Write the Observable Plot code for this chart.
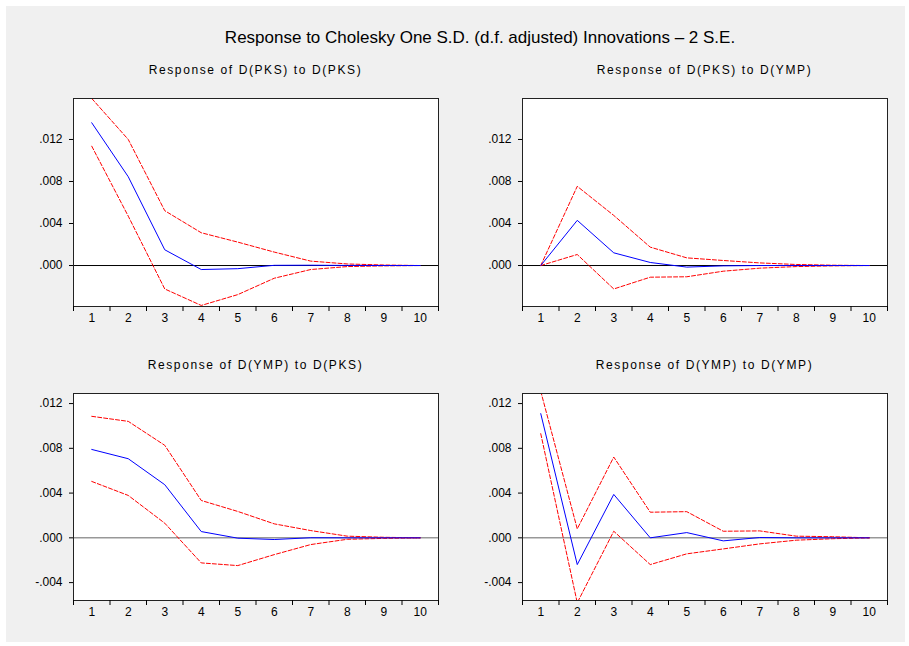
<!DOCTYPE html>
<html>
<head>
<meta charset="utf-8">
<script src="https://cdn.jsdelivr.net/npm/d3@7"></script>
<script src="https://cdn.jsdelivr.net/npm/@observablehq/plot@0.6"></script>
<style>
  html, body { margin: 0; padding: 0; background: #ffffff; }
  #wrap { position: relative; width: 909px; height: 646px; overflow: hidden; font-family: "Liberation Sans", Arial, sans-serif; }
  #bg { position: absolute; left: 6px; top: 6px; width: 899px; height: 636px; background: #f0f0f0; }
  .ttl { position: absolute; white-space: nowrap; transform: translate(-50%, -50%); color: #000; }
  .main { font-size: 17px; }
  .sub { font-size: 12px; letter-spacing: 1.6px; }
  .panel { position: absolute; }
</style>
</head>
<body>
<div id="wrap"><div id="bg"></div></div>
<script>
const periods = [1, 2, 3, 4, 5, 6, 7, 8, 9, 10];
const xTickEdges = [0.5, 1.5, 2.5, 3.5, 4.5, 5.5, 6.5, 7.5, 8.5, 9.5, 10.5];

const mainTitle = "Response to Cholesky One S.D. (d.f. adjusted) Innovations \u2013 2 S.E.";
const panelTitles = [
  "Response of D(PKS) to D(PKS)",
  "Response of D(PKS) to D(YMP)",
  "Response of D(YMP) to D(PKS)",
  "Response of D(YMP) to D(YMP)"
];

// Response of D(PKS) to D(PKS)
const pksPks   = [0.01359, 0.00845, 0.0015, -0.00038, -0.0003, 0.00002, 0.00003, 0.00001, 0, 0];
const pksPksUp = [0.0159, 0.0120, 0.00522, 0.00312, 0.00223, 0.00128, 0.00042, 0.00015, 0.00005, 0];
const pksPksLo = [0.01136, 0.0047, -0.00223, -0.0038, -0.00277, -0.00121, -0.00038, -0.0001, -0.00003, 0];

// Response of D(PKS) to D(YMP)
const pksYmp   = [0, 0.0043, 0.00121, 0.00029, -0.00015, -0.00003, 0, 0, 0, 0];
const pksYmpUp = [0, 0.00754, 0.00477, 0.00175, 0.00073, 0.00048, 0.00025, 0.0001, 0.00003, 0];
const pksYmpLo = [0, 0.00105, -0.00223, -0.00111, -0.00107, -0.00054, -0.00025, -0.0001, -0.00003, 0];

// Response of D(YMP) to D(PKS)
const ympPks   = [0.0079, 0.00707, 0.00475, 0.00056, -0.00003, -0.00015, 0.00001, 0, 0, 0];
const ympPksUp = [0.01086, 0.01041, 0.00827, 0.00334, 0.00236, 0.00125, 0.00065, 0.00015, 0.00005, 0];
const ympPksLo = [0.00504, 0.00379, 0.00131, -0.00224, -0.00248, -0.0015, -0.0006, -0.00013, -0.00005, 0];

// Response of D(YMP) to D(YMP)
const ympYmp   = [0.0111, -0.00239, 0.00388, 0, 0.00047, -0.00027, 0.00003, 0, 0, 0];
const ympYmpUp = [0.0131, 0.0008, 0.00722, 0.00229, 0.00234, 0.00059, 0.00062, 0.00015, 0.0001, 0];
const ympYmpLo = [0.00931, -0.0058, 0.00059, -0.00239, -0.00143, -0.00099, -0.00054, -0.00021, -0.00008, 0];

const topDomain = [-0.0039, 0.0159];
const bottomDomain = [-0.0056, 0.0129];
const topTicks = [0, 0.004, 0.008, 0.012];
const bottomTicks = [-0.004, 0, 0.004, 0.008, 0.012];

const fmtY = d => (d < 0 ? "-" : "") + Math.abs(d).toFixed(3).replace(/^0\./, ".");

const panels = [
  {title: panelTitles[0], resp: pksPks, up: pksPksUp, lo: pksPksLo, domain: topDomain, ticks: topTicks, fx: 73, fy: 98, fw: 365, fh: 208, zero: "#000"},
  {title: panelTitles[1], resp: pksYmp, up: pksYmpUp, lo: pksYmpLo, domain: topDomain, ticks: topTicks, fx: 522, fy: 98, fw: 365, fh: 208, zero: "#000"},
  {title: panelTitles[2], resp: ympPks, up: ympPksUp, lo: ympPksLo, domain: bottomDomain, ticks: bottomTicks, fx: 73, fy: 393, fw: 365, fh: 207, zero: "#666"},
  {title: panelTitles[3], resp: ympYmp, up: ympYmpUp, lo: ympYmpLo, domain: bottomDomain, ticks: bottomTicks, fx: 522, fy: 393, fw: 365, fh: 207, zero: "#666"}
];

const wrap = document.getElementById("wrap");

const mt = document.createElement("div");
mt.className = "ttl main";
mt.textContent = mainTitle;
mt.style.left = "480px";
mt.style.top = "38px";
wrap.appendChild(mt);

const ML = 53, MR = 8, MT = 10, MB = 30;

panels.forEach(p => {
  const st = document.createElement("div");
  st.className = "ttl sub";
  st.textContent = p.title;
  st.style.left = (p.fx + p.fw / 2) + "px";
  st.style.top = (p.fy - 28) + "px";
  wrap.appendChild(st);

  const rows = periods.map((t, i) => ({t, resp: p.resp[i], up: p.up[i], lo: p.lo[i]}));

  const chart = Plot.plot({
    width: p.fw + ML + MR,
    height: p.fh + MT + MB,
    marginLeft: ML, marginRight: MR, marginTop: MT, marginBottom: MB,
    style: {background: "transparent", fontFamily: "'Liberation Sans', Arial, sans-serif", fontSize: "12px", color: "#000", overflow: "visible"},
    x: {domain: [0.5, 10.5], axis: null, label: null},
    y: {domain: p.domain, axis: null, label: null},
    marks: [
      Plot.frame({fill: "white", stroke: null}),
      Plot.ruleY([0], {stroke: p.zero, strokeWidth: 1}),
      Plot.lineY(rows, {x: "t", y: "up", stroke: "#ff0000", strokeWidth: 1, strokeDasharray: "4,2", clip: true}),
      Plot.lineY(rows, {x: "t", y: "lo", stroke: "#ff0000", strokeWidth: 1, strokeDasharray: "4,2", clip: true}),
      Plot.lineY(rows, {x: "t", y: "resp", stroke: "#0000ff", strokeWidth: 1, clip: true}),
      Plot.frame({stroke: "#222", strokeWidth: 1}),
      Plot.axisX({ticks: xTickEdges, tickFormat: () => "", tickSize: 5, anchor: "bottom", stroke: "#000", label: null}),
      Plot.axisX({ticks: periods, tickFormat: d => String(d), tickSize: 0, tickPadding: 7, anchor: "bottom", label: null}),
      Plot.axisY({ticks: p.ticks, tickFormat: fmtY, tickSize: 4, tickPadding: 7, anchor: "left", stroke: "#000", label: null})
    ]
  });
  const holder = document.createElement("div");
  holder.className = "panel";
  holder.style.left = (p.fx - ML) + "px";
  holder.style.top = (p.fy - MT) + "px";
  holder.appendChild(chart);
  wrap.appendChild(holder);
});
</script>
</body>
</html>
